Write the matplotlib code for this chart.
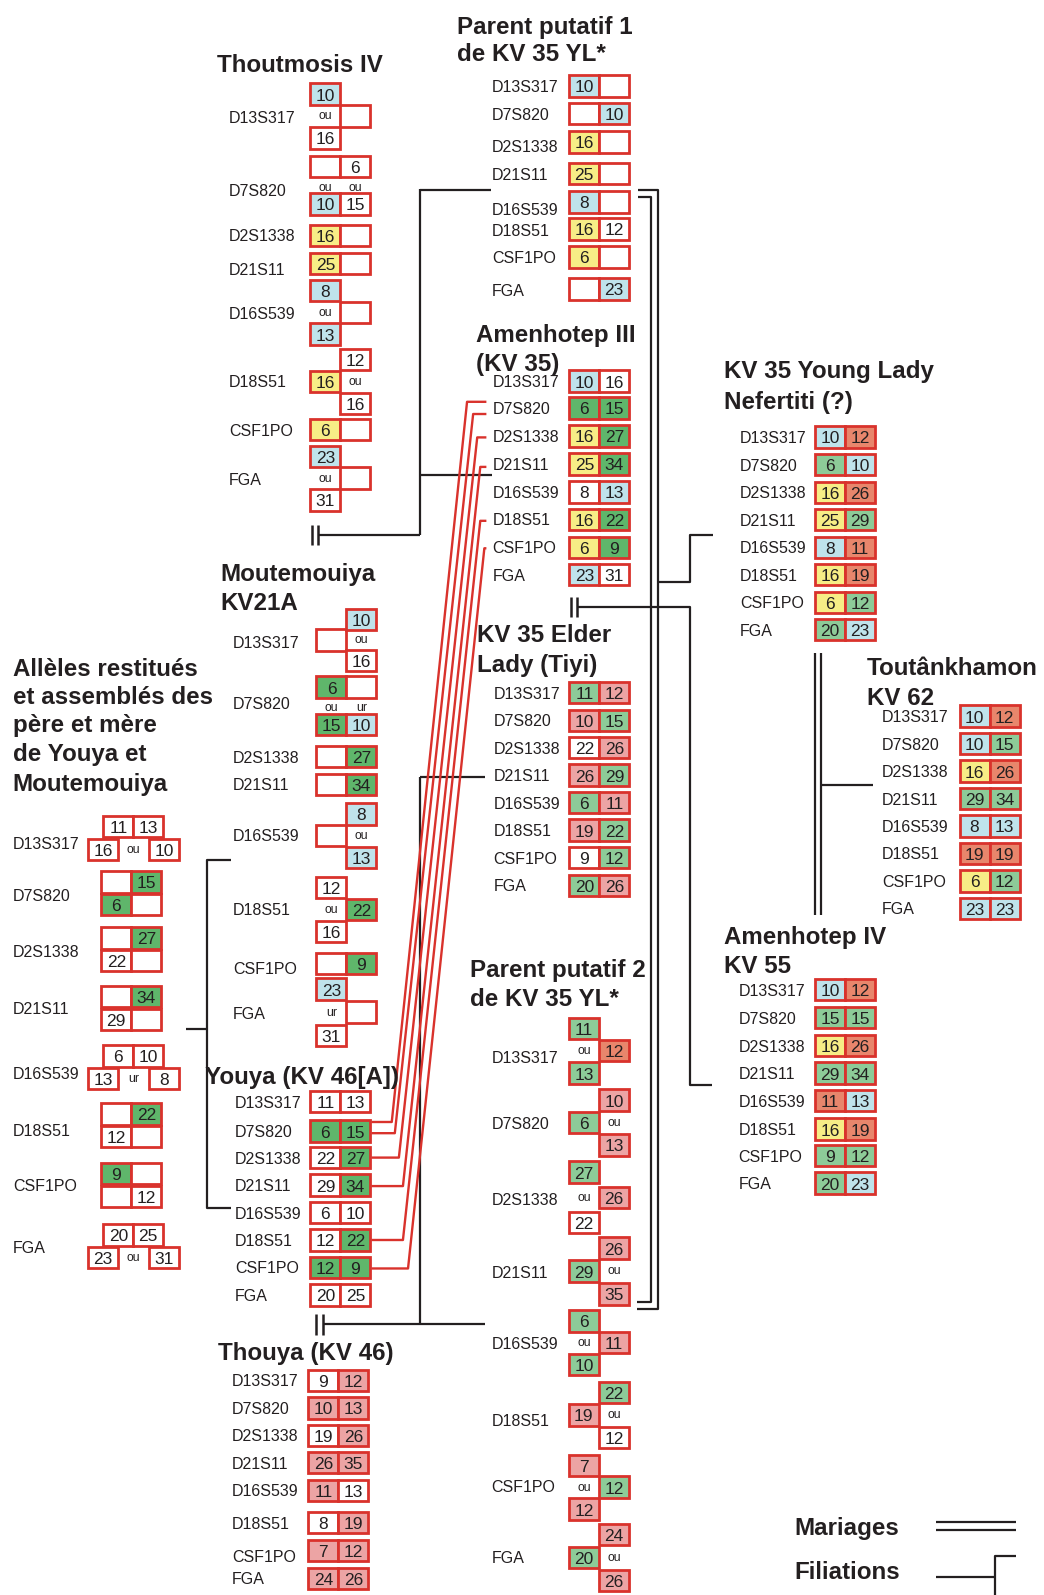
import matplotlib.pyplot as plt
from matplotlib.patches import Rectangle

plt.rcParams['font.family'] = ['Liberation Sans', 'DejaVu Sans']

markers = ['D13S317', 'D7S820', 'D2S1338', 'D21S11', 'D16S539', 'D18S51', 'CSF1PO', 'FGA']

# colour codes: w white, b blue, y yellow, g green (KV46/KV35 III), l light green, o orange, p pink
pp1_alleles = [('10', ''), ('', '10'), ('16', ''), ('25', ''), ('8', ''), ('16', '12'), ('6', ''), ('', '23')]
pp1_codes = ['bw', 'wb', 'yw', 'yw', 'bw', 'yw', 'yw', 'wb']

amen3_alleles = [('10', '16'), ('6', '15'), ('16', '27'), ('25', '34'), ('8', '13'), ('16', '22'), ('6', '9'), ('23', '31')]
amen3_codes = ['bw', 'gg', 'yg', 'yg', 'wb', 'yg', 'yg', 'bw']

yl_alleles = [('10', '12'), ('6', '10'), ('16', '26'), ('25', '29'), ('8', '11'), ('16', '19'), ('6', '12'), ('20', '23')]
yl_codes = ['bo', 'lb', 'yo', 'yl', 'bo', 'yo', 'yl', 'lb']

tut_alleles = [('10', '12'), ('10', '15'), ('16', '26'), ('29', '34'), ('8', '13'), ('19', '19'), ('6', '12'), ('23', '23')]
tut_codes = ['bo', 'bl', 'yo', 'll', 'bb', 'oo', 'yl', 'bb']

amen4_alleles = [('10', '12'), ('15', '15'), ('16', '26'), ('29', '34'), ('11', '13'), ('16', '19'), ('9', '12'), ('20', '23')]
amen4_codes = ['bo', 'll', 'yo', 'll', 'ob', 'yo', 'll', 'lb']

tiyi_alleles = [('11', '12'), ('10', '15'), ('22', '26'), ('26', '29'), ('6', '11'), ('19', '22'), ('9', '12'), ('20', '26')]
tiyi_codes = ['lp', 'pl', 'wp', 'pl', 'lp', 'pl', 'wl', 'lp']

youya_alleles = [('11', '13'), ('6', '15'), ('22', '27'), ('29', '34'), ('6', '10'), ('12', '22'), ('12', '9'), ('20', '25')]
youya_codes = ['ww', 'gg', 'wg', 'wg', 'ww', 'wg', 'gg', 'ww']

thouya_alleles = [('9', '12'), ('10', '13'), ('19', '26'), ('26', '35'), ('11', '13'), ('8', '19'), ('7', '12'), ('24', '26')]
thouya_codes = ['wp', 'pp', 'wp', 'pp', 'pw', 'wp', 'pp', 'pp']

# alternatives ("ou") per allele column
thout_left = [['10', '16'], ['', '10'], ['16'], ['25'], ['8', '13'], ['16'], ['6'], ['23', '31']]
thout_left_codes = ['bw', 'wb', 'y', 'y', 'bb', 'y', 'y', 'bw']
thout_right = [[''], ['6', '15'], [''], [''], [''], ['12', '16'], [''], ['']]
thout_right_codes = ['w', 'ww', 'w', 'w', 'w', 'ww', 'w', 'w']
thout_seps = [('ou', 'ou')] * 8

mout_left = [[''], ['6', '15'], [''], [''], [''], ['12', '16'], [''], ['23', '31']]
mout_left_codes = ['w', 'gg', 'w', 'w', 'w', 'ww', 'w', 'bw']
mout_right = [['10', '16'], ['', '10'], ['27'], ['34'], ['8', '13'], ['22'], ['9'], ['']]
mout_right_codes = ['bw', 'wb', 'g', 'g', 'bb', 'g', 'g', 'w']
mout_seps = [('ou', 'ou'), ('ou', 'ur'), ('ou', 'ou'), ('ou', 'ou'), ('ou', 'ou'), ('ou', 'ou'), ('ou', 'ou'), ('ur', 'ou')]

pp2_left = [['11', '13'], ['6'], ['27', '22'], ['29'], ['6', '10'], ['19'], ['7', '12'], ['20']]
pp2_left_codes = ['ll', 'l', 'lw', 'l', 'll', 'p', 'pp', 'l']
pp2_right = [['12'], ['10', '13'], ['26'], ['26', '35'], ['11'], ['22', '12'], ['12'], ['24', '26']]
pp2_right_codes = ['o', 'pp', 'p', 'pp', 'p', 'lw', 'l', 'pp']
pp2_seps = [('ou', 'ou')] * 8

# restored parental alleles of Youya and Moutemouiya
rest_top = [('11', '13'), ('', '15'), ('', '27'), ('', '34'), ('6', '10'), ('', '22'), ('9', ''), ('20', '25')]
rest_top_codes = ['ww', 'wg', 'wg', 'wg', 'ww', 'wg', 'gw', 'ww']
rest_bottom = [('16', '10'), ('6', ''), ('22', ''), ('29', ''), ('13', '8'), ('12', ''), ('', '12'), ('23', '31')]
rest_bottom_codes = ['ww', 'gw', 'ww', 'ww', 'ww', 'ww', 'ww', 'ww']
rest_bottom_sep = ['ou', None, None, None, 'ur', None, None, 'ou']

COLORS = {'w': 'white', 'b': '#bfe3eb', 'y': '#f7ed86', 'g': '#5fb66b', 'l': '#8dcb98',
          'o': '#e8866c', 'p': '#eca4a4'}
RED = '#d9322c'
INK = '#231f20'
BW, BH = 29.5, 21

fig = plt.figure(figsize=(10.44, 15.95), dpi=100)
ax = fig.add_axes([0, 0, 1, 1])
ax.set_xlim(0, 1026)
ax.set_ylim(1568, 0)
ax.axis('off')


def box(x, y, val, code):
    ax.add_patch(Rectangle((x, y - BH / 2), BW, BH, facecolor=COLORS[code],
                           edgecolor=RED, lw=2.0, zorder=3))
    if val:
        ax.text(x + BW / 2, y + 0.5, val, ha='center', va='center_baseline',
                fontsize=12.5, color=INK, zorder=4)


def label(x, y, txt):
    ax.text(x, y, txt, ha='left', va='center_baseline', fontsize=11.5, color=INK)


def title(x, ys, lines):
    for y, t in zip(ys, lines):
        ax.text(x, y, t, ha='left', va='center_baseline', fontsize=17.4,
                fontweight='bold', color=INK, zorder=5)


def small(x, y, txt):
    ax.text(x, y, txt, ha='center', va='center_baseline', fontsize=8.8, color=INK)


def pair_panel(x0, lx, rows, alleles, codes, lrows=None):
    lrows = lrows or rows
    for i, m in enumerate(markers):
        label(lx, lrows[i], m)
        for j in range(2):
            box(x0 + j * BW, rows[i], alleles[i][j], codes[i][j])


def alt_panel(x0, lx, centers, lrows, left, lcodes, right, rcodes, seps, spread):
    for i, m in enumerate(markers):
        label(lx, lrows[i], m)
        c = centers[i]
        cols = [(left[i], lcodes[i]), (right[i], rcodes[i])]
        for j, (opts, cds) in enumerate(cols):
            other = cols[1 - j][0]
            x = x0 + j * BW
            if len(opts) == 1:
                ys = [c]
            elif len(other) == 2:
                ys = [c - 18.5, c + 18.5]
            else:
                ys = [c - spread[i], c + spread[i]]
            for v, cd, y in zip(opts, cds, ys):
                box(x, y, v, cd)
            if len(opts) == 2:
                small(x + BW / 2, c + (1 if len(other) == 2 else -1), seps[i][j])


def restored_panel(lx, tops, lrows):
    for i, m in enumerate(markers):
        label(lx, lrows[i], m)
        yt, yb = tops[i], tops[i] + 22.5
        sep = rest_bottom_sep[i]
        tx = 101.5 if sep else 99.5
        for j in range(2):
            box(tx + j * BW, yt, rest_top[i][j], rest_top_codes[i][j])
        if sep:
            box(86.5, yb, rest_bottom[i][0], rest_bottom_codes[i][0])
            small(131, yb - 1, sep)
            box(146.5, yb, rest_bottom[i][1], rest_bottom_codes[i][1])
        else:
            for j in range(2):
                box(99.5 + j * BW, yb, rest_bottom[i][j], rest_bottom_codes[i][j])


def line(xs, ys, color=INK, lw=1.6):
    ax.plot(xs, ys, color=color, lw=lw, solid_capstyle='butt', zorder=2)


def marriage_mark(x, y):
    line([x, x], [y - 10, y + 10], lw=1.8)
    line([x + 6, x + 6], [y - 10, y + 10], lw=1.8)


# ---- panels ----
title(213, [62], ['Thoutmosis IV'])
alt_panel(305, 225, [114, 182, 231.5, 259, 307, 375, 422.5, 470],
          [115, 187, 231.5, 264, 307.5, 375, 422.5, 471],
          thout_left, thout_left_codes, thout_right, thout_right_codes, thout_seps,
          [21.5] * 8)

title(449, [24.6, 51.5], ['Parent putatif 1', 'de KV 35 YL*'])
pair_panel(559, 483.5, [84.5, 111.5, 139.5, 170.5, 198.5, 225, 252.5, 284], pp1_alleles, pp1_codes,
           [84.5, 112, 144, 171, 205, 226, 253, 285])

title(468, [327.5, 356], ['Amenhotep III', '(KV 35)'])
pair_panel(559.5, 484, [374.6, 401, 428.6, 456, 483.6, 510.6, 538, 565], amen3_alleles, amen3_codes)

title(712, [362.7, 393], ['KV 35 Young Lady', 'Nefertiti (?)'])
pair_panel(801, 727, [429.5, 456.8, 484, 511, 538, 565, 592, 619], yl_alleles, yl_codes)

title(852, [655, 684], ['Toutânkhamon', 'KV 62'])
pair_panel(943, 867, [704, 731, 758, 785, 812, 839, 866, 893], tut_alleles, tut_codes)

title(712, [919, 947.5], ['Amenhotep IV', 'KV 55'])
pair_panel(801, 726, [973, 1000.5, 1028, 1055, 1082, 1110, 1136, 1163], amen4_alleles, amen4_codes)

title(469, [622.6, 651.6], ['KV 35 Elder', 'Lady (Tiyi)'])
pair_panel(559.5, 485, [681, 708, 735, 762, 789, 816, 843, 870.5], tiyi_alleles, tiyi_codes)

title(217, [562, 590.5], ['Moutemouiya', 'KV21A'])
alt_panel(311, 229, [629, 694, 743.7, 771, 821.6, 894, 947, 995],
          [631, 691, 744, 771, 821, 894, 952, 995.5],
          mout_left, mout_left_codes, mout_right, mout_right_codes, mout_seps,
          [20.3, 20, 20, 20, 21.5, 21.8, 20, 22.7])

title(462, [951.8, 980], ['Parent putatif 2', 'de KV 35 YL*'])
alt_panel(559, 483, [1033, 1103.5, 1177, 1249.5, 1320, 1391, 1462, 1531],
          [1039, 1104, 1179, 1250, 1320, 1396, 1461, 1531],
          pp2_left, pp2_left_codes, pp2_right, pp2_right_codes, pp2_seps,
          [22, 22, 24.8, 22.5, 21.5, 22, 21.5, 22.5])

title(12.5, [655.6, 683, 710.7, 739, 768.7],
      ['Allèles restitués', 'et assemblés des', 'père et mère', 'de Youya et', 'Moutemouiya'])
restored_panel(13, [812.6, 867, 922, 979.6, 1038, 1095, 1153.6, 1214],
               [829, 880, 934.6, 991, 1054.6, 1111, 1165, 1225.6])

title(201.5, [1057], ['Youya (KV 46[A])'])
pair_panel(305, 231, [1083, 1112, 1138, 1165, 1192, 1219, 1246, 1273], youya_alleles, youya_codes)

title(214, [1328], ['Thouya (KV 46)'])
pair_panel(303, 228, [1357, 1384, 1411, 1438, 1465, 1497, 1524.5, 1552], thouya_alleles, thouya_codes,
           [1357, 1384, 1411, 1438, 1465, 1497, 1530, 1551])

# ---- genealogy connectors ----
marriage_mark(307, 526)
line([313, 413], [526, 526])
line([413, 413], [186, 526])
line([413, 483], [187, 187])
line([413, 484], [467, 467])

line([627, 647, 647, 626], [187, 187, 1287, 1287])
line([627, 640, 640, 626], [194, 194, 1280, 1280])
line([647, 678, 678, 701], [572, 572, 526, 526])

marriage_mark(561, 597)
line([567, 678, 678, 700], [597, 597, 1067, 1067])

line([801, 801], [642, 900])
line([807, 807], [642, 900])
line([807, 858], [772, 772])

line([227, 203, 203, 227], [845, 845, 1188, 1188])
line([183, 203], [1012, 1012])

marriage_mark(311, 1302)
line([317, 477], [1302, 1302])
line([413, 413], [764, 1302])
line([413, 477], [764, 764])

# allele transmissions Amenhotep III <- Youya
red_links = [(1103, 385, 459, 395), (1114, 388, 465, 407), (1138, 392, 469, 430),
             (1166, 396, 472, 459), (1219, 396, 472, 512), (1247, 401, 476, 539)]
for yy, xb, xa, ya in red_links:
    line([365, xb, xa, 478], [yy, yy, ya, ya], color=RED, lw=1.7)

# ---- legend ----
ax.text(781, 1500, 'Mariages', ha='left', va='center_baseline', fontsize=17.4,
        fontweight='bold', color=INK)
line([920, 998], [1496, 1496])
line([920, 998], [1504, 1504])
ax.text(781, 1543, 'Filiations', ha='left', va='center_baseline', fontsize=17.4,
        fontweight='bold', color=INK)
line([920, 978], [1550, 1550])
line([998, 978, 978], [1530, 1530, 1568])

fig.savefig('out.png', dpi=100)
